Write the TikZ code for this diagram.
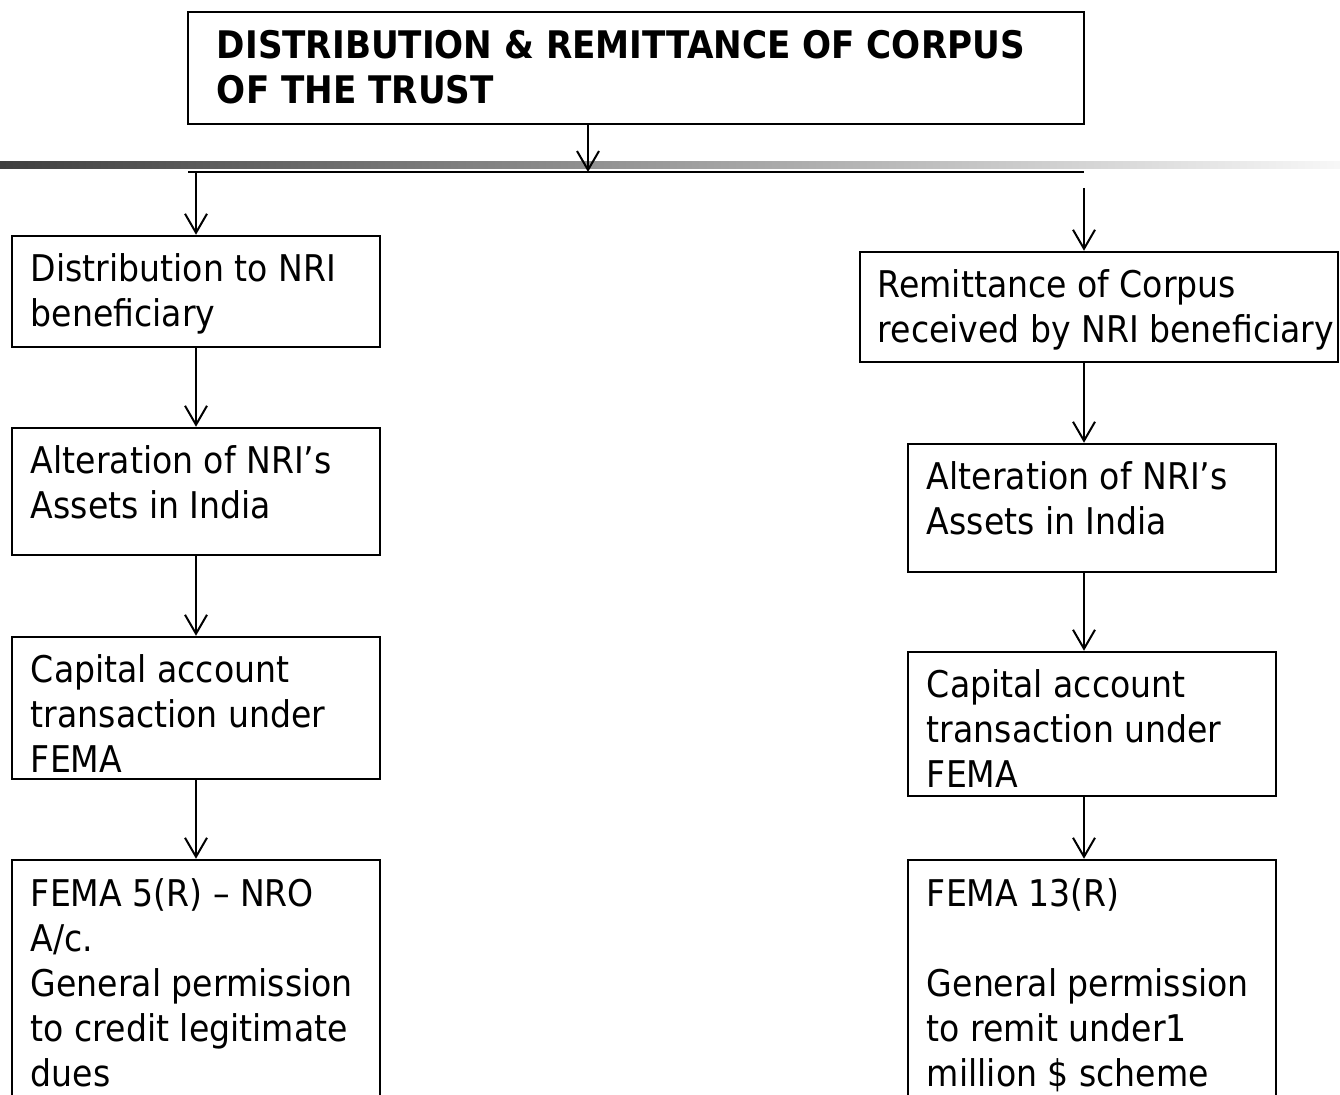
\documentclass[tikz,border=0pt]{standalone}
\usepackage{fontspec}
\setmainfont{DejaVu Sans Condensed}
\usetikzlibrary{arrows.meta}
\begin{document}
\begin{tikzpicture}[x=1pt,y=-1pt,
  box/.style={draw=black, line width=2.5pt, rectangle, inner sep=0pt},
  boxtext/.style={anchor=base west, inner sep=0pt, font=\fontsize{36.8}{45}\selectfont},
  titletext/.style={anchor=base west, inner sep=0pt, font=\fontsize{38}{45}\selectfont\bfseries},
  flow/.style={line width=2pt, -{Straight Barb[length=19pt,width=22pt]}}]

\useasboundingbox (0,0) rectangle (1340,1094);
\clip (0,0) rectangle (1340,1094);

% shaded rule across the page
\shade[left color=black!75, right color=black!3] (0,162) rectangle (1340,169);

% title
\node[box, minimum width=896pt, minimum height=112pt] (title) at (636,68) {};
\node[titletext] (titlet) at ([xshift=30pt,yshift=-48pt]title.north west)
  {\vtop{\hbox{DISTRIBUTION \& REMITTANCE OF CORPUS}\hbox{OF THE TRUST}}};

% bus line
\coordinate (busW) at (188,172);
\coordinate (busE) at (1084,172);
\coordinate (busM) at (588,172);
\coordinate (rdrop) at (1084,188);
\draw[line width=2.5pt] (busW) -- (busE);
\draw[flow] (title.south -| busM) -- (busM);

% left column
\node[box, minimum width=368pt, minimum height=111pt] (B1) at (196,291.5) {};
\node[box, minimum width=368pt, minimum height=127pt] (B2) at (196,491.5) {};
\node[box, minimum width=368pt, minimum height=142pt] (B3) at (196,708) {};
\node[box, minimum width=368pt, minimum height=260pt] (B4) at (196,990) {};

\node[boxtext] (B1t) at ([xshift=20pt,yshift=-47pt]B1.north west)
  {\vtop{\hbox{Distribution to NRI}\hbox{beneficiary}}};
\node[boxtext] (B2t) at ([xshift=20pt,yshift=-47pt]B2.north west)
  {\vtop{\hbox{Alteration of NRI’s}\hbox{Assets in India}}};
\node[boxtext] (B3t) at ([xshift=20pt,yshift=-47pt]B3.north west)
  {\vtop{\hbox{Capital account}\hbox{transaction under}\hbox{FEMA}}};
\node[boxtext] (B4t) at ([xshift=20pt,yshift=-48pt]B4.north west)
  {\vtop{\hbox{FEMA 5(R) – NRO}\hbox{A/c.}\hbox{General permission}\hbox{to credit legitimate}\hbox{dues}}};

% right column
\node[box, minimum width=478pt, minimum height=110pt] (R1) at (1099,307) {};
\node[box, minimum width=368pt, minimum height=128pt] (R2) at (1092,508) {};
\node[box, minimum width=368pt, minimum height=144pt] (R3) at (1092,724) {};
\node[box, minimum width=368pt, minimum height=260pt] (R4) at (1092,990) {};

\node[boxtext] (R1t) at ([xshift=19pt,yshift=-47pt]R1.north west)
  {\vtop{\hbox{Remittance of Corpus}\hbox{received by NRI beneficiary}}};
\node[boxtext] (R2t) at ([xshift=20pt,yshift=-47pt]R2.north west)
  {\vtop{\hbox{Alteration of NRI’s}\hbox{Assets in India}}};
\node[boxtext] (R3t) at ([xshift=20pt,yshift=-47pt]R3.north west)
  {\vtop{\hbox{Capital account}\hbox{transaction under}\hbox{FEMA}}};
\node[boxtext] (R4t) at ([xshift=20pt,yshift=-48pt]R4.north west)
  {\vtop{\hbox{FEMA 13(R)}\hbox{}\hbox{General permission}\hbox{to remit under1}\hbox{million \$ scheme}}};

% connectors
\draw[flow] (B1.north |- busW) -- (B1.north);
\draw[flow] (B1) -- (B2);
\draw[flow] (B2) -- (B3);
\draw[flow] (B3) -- (B4);

\draw[flow] (rdrop) -- (rdrop |- R1.north);
\draw[flow] (R1.south -| rdrop) -- (R2.north -| rdrop);
\draw[flow] (R2.south -| rdrop) -- (R3.north -| rdrop);
\draw[flow] (R3.south -| rdrop) -- (R4.north -| rdrop);
\end{tikzpicture}
\end{document}
